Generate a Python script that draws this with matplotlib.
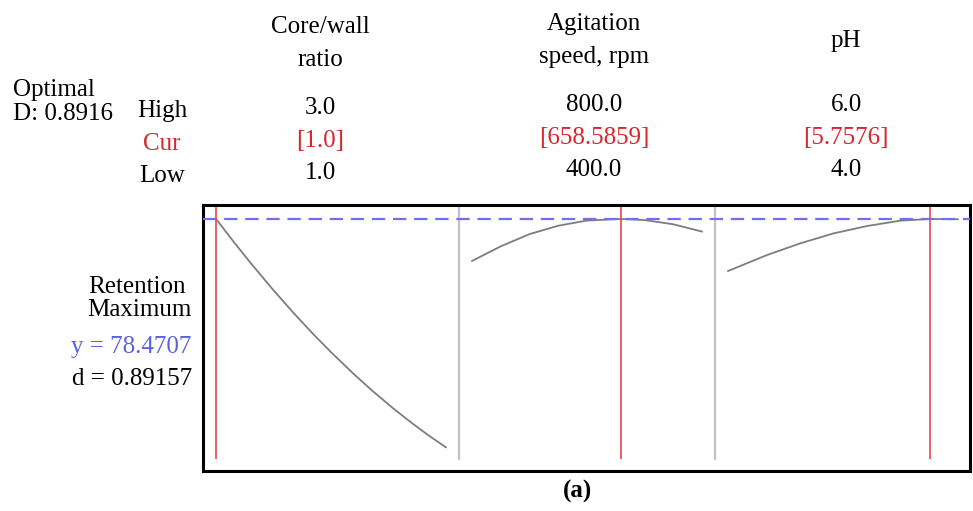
import matplotlib
matplotlib.use("Agg")
import matplotlib.pyplot as plt
import matplotlib.transforms as mtransforms

# factors, limits and optimum setting
factors = ["Core/wall\nratio", "Agitation\nspeed, rpm", "pH"]
high = [3.0, 800.0, 6.0]
low = [1.0, 400.0, 4.0]
cur = [1.0, 658.5859, 5.7576]
high_txt = ["3.0", "800.0", "6.0"]
low_txt = ["1.0", "400.0", "4.0"]
cur_txt = ["[1.0]", "[658.5859]", "[5.7576]"]

y_opt = 78.4707
d_val = 0.89157
D_val = 0.8916

# predicted response traces
x_ratio = [1.0, 1.15, 1.3, 1.5, 1.67, 1.84, 2.0, 2.2, 2.36, 2.54, 2.7, 2.85, 3.0]
y_ratio = [78.47, 76.17, 73.97, 71.16, 68.89, 66.74, 64.82, 62.56, 60.86, 59.07, 57.59, 56.28, 55.07]
x_speed = [400, 450, 500, 550, 600, 658.6, 700, 750, 800]
y_speed = [74.17, 75.67, 76.92, 77.78, 78.31, 78.47, 78.36, 77.93, 77.18]
x_ph = [4.0, 4.34, 4.63, 4.92, 5.21, 5.50, 5.76, 6.0]
y_ph = [73.14, 74.78, 75.98, 77.00, 77.75, 78.30, 78.47, 78.44]
traces = [(x_ratio, y_ratio), (x_speed, y_speed), (x_ph, y_ph)]

W, H = 973, 511
plt.rcParams["font.family"] = ["Liberation Serif", "DejaVu Serif"]
fs = 18
fig = plt.figure(figsize=(W / 100, H / 100), dpi=100)


def fx(px):
    return px / W


def fy(py):
    return 1 - py / H


# outer frame
frame = fig.add_axes([fx(203), fy(471), fx(970 - 203), (471 - 205) / H])
frame.set_xticks([])
frame.set_yticks([])
for s in frame.spines.values():
    s.set_linewidth(2.2)
    s.set_color("black")
frame.set_zorder(3)
frame.patch.set_alpha(0)

red = "#e8464b"
panel_left = [203, 459, 715]
panel_w = 256
axes = []
for i in range(3):
    ax = fig.add_axes([fx(panel_left[i]), fy(459), fx(panel_w), (459 - 206) / H])
    pad = 0.057 * (high[i] - low[i])
    ax.set_xlim(low[i] - pad, high[i] + pad)
    ax.set_ylim(53.87, 79.80)
    ax.set_xticks([])
    ax.set_yticks([])
    for name, s in ax.spines.items():
        s.set_visible(False)
    if i > 0:
        ax.spines["left"].set_visible(True)
        ax.spines["left"].set_color("#c4c4c4")
        ax.spines["left"].set_linewidth(1.6)
    ax.patch.set_alpha(0)
    xs, ys = traces[i]
    ax.plot(xs, ys, color="#7d7d7d", lw=1.3)
    ax.axvline(cur[i], color=red, lw=1.2)
    axes.append(ax)

# horizontal optimum line spanning the whole frame
tr = mtransforms.blended_transform_factory(frame.transAxes, axes[0].transData)
frame.plot([0, 1], [y_opt, y_opt], transform=tr, color="#6f6ff2", lw=1.6,
           dashes=(6, 3.5), clip_on=False, zorder=4)

# header text
red_txt = "#d8262c"
blue_txt = "#5a62e4"
col_x = [320, 594, 846]
col_dy = [3, 0, 0]
for i in range(3):
    dy = col_dy[i]
    lines = factors[i].split("\n")
    if len(lines) == 2:
        fig.text(fx(col_x[i]), fy(30 + dy), lines[0], ha="center", va="baseline", fontsize=fs)
        fig.text(fx(col_x[i]), fy(63 + dy), lines[1], ha="center", va="baseline", fontsize=fs)
    else:
        fig.text(fx(col_x[i]), fy(47 + dy), lines[0], ha="center", va="baseline", fontsize=fs)
    fig.text(fx(col_x[i]), fy(111 + dy), high_txt[i], ha="center", va="baseline", fontsize=fs)
    fig.text(fx(col_x[i]), fy(144 + dy), cur_txt[i], ha="center", va="baseline", fontsize=fs,
             color=red_txt)
    fig.text(fx(col_x[i]), fy(176 + dy), low_txt[i], ha="center", va="baseline", fontsize=fs)

fig.text(fx(162), fy(117), "High", ha="center", va="baseline", fontsize=fs)
fig.text(fx(162), fy(150), "Cur", ha="center", va="baseline", fontsize=fs, color=red_txt)
fig.text(fx(162), fy(182), "Low", ha="center", va="baseline", fontsize=fs)

fig.text(fx(13), fy(96), "Optimal", ha="left", va="baseline", fontsize=fs)
fig.text(fx(13), fy(120), f"D: {D_val:.4f}", ha="left", va="baseline", fontsize=fs)

fig.text(fx(137), fy(293), "Retention", ha="center", va="baseline", fontsize=fs)
fig.text(fx(139), fy(316), "Maximum", ha="center", va="baseline", fontsize=fs)
fig.text(fx(191), fy(353), f"y = {y_opt:.4f}", ha="right", va="baseline", fontsize=fs,
         color=blue_txt)
fig.text(fx(192), fy(385), f"d = {d_val:.5f}", ha="right", va="baseline", fontsize=fs)

fig.text(fx(578), fy(498), "(a)", ha="center", va="baseline", fontsize=fs, fontweight="bold")

fig.savefig("out.png", dpi=100)
